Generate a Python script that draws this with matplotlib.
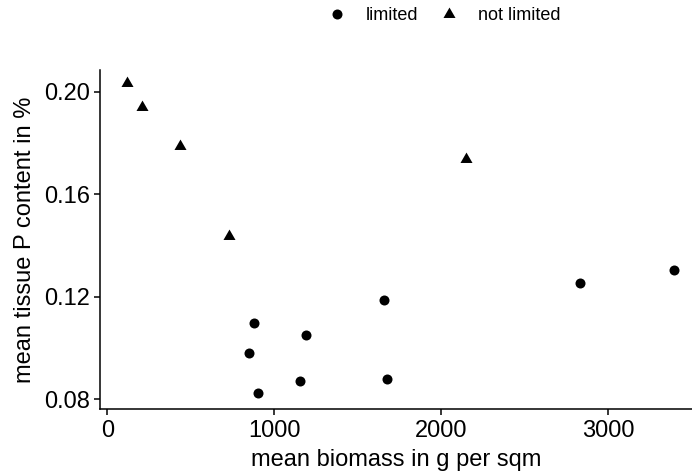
import numpy as np
import matplotlib.pyplot as plt
from matplotlib.path import Path
from matplotlib.lines import Line2D

# data
limited_biomass = [880, 848, 904, 1188, 1154, 1655, 1673, 2831, 3395]
limited_p = [0.1098, 0.0981, 0.0823, 0.1049, 0.0872, 0.1189, 0.0881, 0.1253, 0.1306]

notlim_biomass = [116, 210, 435, 727, 2148]
notlim_p = [0.2033, 0.1939, 0.1788, 0.1437, 0.1736]

plt.rcParams["font.family"] = ["Liberation Sans", "DejaVu Sans"]

# equilateral triangle like ggplot shape 17
tri = Path([(0, 0.577), (-0.5, -0.289), (0.5, -0.289), (0, 0.577)],
           [Path.MOVETO, Path.LINETO, Path.LINETO, Path.CLOSEPOLY])

figure = plt.figure(figsize=(6.92, 4.72), dpi=100)
axes = figure.add_axes([100/692, 62.7/472, 592/692, 339.3/472])

axes.scatter(limited_biomass, limited_p, s=52, marker="o", color="black", linewidths=0)
axes.scatter(notlim_biomass, notlim_p, s=100, marker=tri, color="black", linewidths=0)

axes.set_xlim(-44, 3501)
axes.set_ylim(0.0761, 0.2085)
axes.set_xticks([0, 1000, 2000, 3000])
axes.set_yticks([0.08, 0.12, 0.16, 0.20])
axes.set_yticklabels(["0.08", "0.12", "0.16", "0.20"])

for side in ["top", "right"]:
    axes.spines[side].set_visible(False)
for side in ["left", "bottom"]:
    axes.spines[side].set_linewidth(1.1)
axes.tick_params(axis="both", labelsize=17, length=4, width=1.1, color="black", labelcolor="black")
axes.tick_params(axis="x", pad=4)
axes.tick_params(axis="y", pad=3)

axes.set_xlabel("mean biomass in g per sqm", fontsize=17, labelpad=5)
axes.set_ylabel("mean tissue P content in %", fontsize=17, labelpad=6)

handles = [
    Line2D([], [], linestyle="none", marker="o", markersize=7.2, color="black", markeredgewidth=0),
    Line2D([], [], linestyle="none", marker=tri, markersize=10, color="black", markeredgewidth=0),
]
figure.legend(handles, ["limited", "not limited"], loc="center", bbox_to_anchor=(444/692, 1 - 16/472),
              ncol=2, frameon=False, fontsize=13, handlelength=1.0, handletextpad=1.1,
              columnspacing=1.2, borderpad=0)

figure.savefig("out.png", dpi=100)
